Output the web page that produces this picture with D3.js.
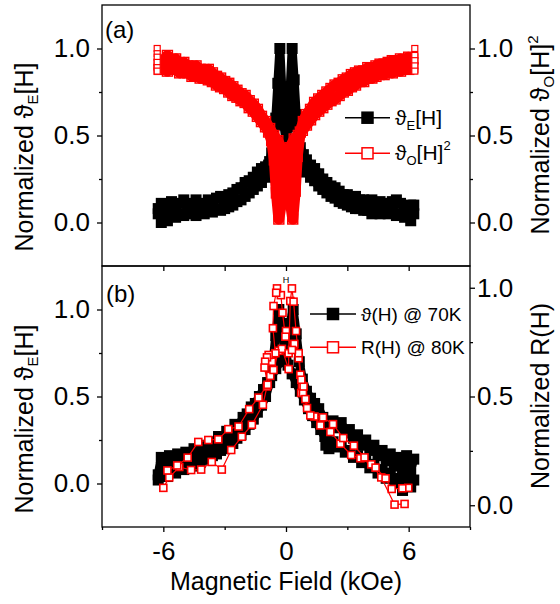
<!DOCTYPE html>
<html>
<head>
<meta charset="utf-8">
<script src="https://cdn.jsdelivr.net/npm/d3@7"></script>
<style>
  body { margin: 0; background: #fff; }
  svg { font-family: "Liberation Sans", Arial, sans-serif; }
</style>
</head>
<body>
<div id="chart"></div>
<script>
// ---- data: [field (kOe), normalized value] ----

// panel (a), black: theta_E[H], sweep up (peak at +0.3) and sweep down (peak at -0.3)
const thetaEUpA = [[-6.25,.05],[-6.1,.11],[-6.0,.03],[-5.8,.09],[-5.6,.12],[-5.4,.08],[-5.2,.11],[-5.0,.13],[-4.8,.09],[-4.6,.11],[-4.4,.13],[-4.2,.1],[-4.0,.11],[-3.8,.13],[-3.6,.12],[-3.4,.14],[-3.2,.15],[-3.0,.13],[-2.8,.16],[-2.6,.17],[-2.4,.19],[-2.2,.2],[-2.0,.23],[-1.8,.24],[-1.6,.26],[-1.4,.29],[-1.2,.31],[-1.0,.32],[-0.8,.35],[-0.6,.38],[-0.4,.41],[-0.2,.43],[0.0,.46],[0.1,.55],[0.2,.76],[0.3,1.0],[0.4,.82],[0.5,.62],[0.6,.5],[0.7,.43],[0.85,.39],[1.0,.36],[1.2,.33],[1.4,.31],[1.6,.28],[1.8,.25],[2.0,.23],[2.2,.21],[2.4,.2],[2.6,.18],[2.8,.16],[3.0,.16],[3.2,.14],[3.4,.15],[3.6,.13],[3.8,.13],[4.0,.12],[4.2,.13],[4.4,.11],[4.6,.12],[4.8,.11],[5.0,.1],[5.2,.12],[5.4,.13],[5.6,.11],[5.8,.09],[6.0,.05],[6.1,.1],[6.25,.05]];
const thetaEDownA = [[6.25,.1],[6.1,.01],[6.0,.06],[5.8,.03],[5.6,.05],[5.4,.04],[5.2,.06],[5.0,.05],[4.8,.06],[4.6,.05],[4.4,.06],[4.2,.05],[4.0,.07],[3.8,.07],[3.6,.08],[3.4,.08],[3.2,.09],[3.0,.1],[2.8,.11],[2.6,.12],[2.4,.14],[2.2,.15],[2.0,.17],[1.8,.19],[1.6,.21],[1.4,.24],[1.2,.26],[1.0,.29],[0.8,.33],[0.6,.37],[0.4,.4],[0.2,.43],[0.0,.47],[-0.1,.56],[-0.2,.76],[-0.3,1.0],[-0.4,.8],[-0.5,.6],[-0.6,.48],[-0.7,.4],[-0.85,.33],[-1.0,.26],[-1.2,.23],[-1.4,.21],[-1.6,.19],[-1.8,.17],[-2.0,.15],[-2.2,.13],[-2.4,.12],[-2.6,.1],[-2.8,.09],[-3.0,.08],[-3.2,.07],[-3.4,.08],[-3.6,.06],[-3.8,.07],[-4.0,.05],[-4.2,.06],[-4.4,.04],[-4.6,.06],[-4.8,.05],[-5.0,.04],[-5.2,.05],[-5.4,.03],[-5.6,.04],[-5.8,.01],[-6.0,.05],[-6.1,.0],[-6.25,.08]];

// panel (a), red: theta_O[H]^2
const thetaOUpA = [[-6.2,.91],[-6.0,.93],[-5.8,.96],[-5.6,.93],[-5.4,.94],[-5.2,.91],[-5.0,.92],[-4.8,.9],[-4.6,.89],[-4.4,.9],[-4.2,.88],[-4.0,.87],[-3.8,.88],[-3.6,.86],[-3.4,.84],[-3.2,.83],[-3.0,.81],[-2.8,.8],[-2.6,.78],[-2.4,.76],[-2.2,.74],[-2.0,.73],[-1.8,.7],[-1.6,.68],[-1.4,.65],[-1.2,.61],[-1.0,.58],[-0.8,.54],[-0.6,.5],[-0.4,.47],[-0.2,.42],[0.0,.33],[0.1,.24],[0.2,.13],[0.33,.02],[0.45,.18],[0.55,.38],[0.7,.52],[0.85,.58],[1.0,.62],[1.2,.65],[1.4,.69],[1.6,.71],[1.8,.73],[2.0,.75],[2.2,.77],[2.4,.79],[2.6,.8],[2.8,.82],[3.0,.83],[3.2,.85],[3.4,.86],[3.6,.87],[3.8,.87],[4.0,.89],[4.2,.88],[4.4,.9],[4.6,.91],[4.8,.91],[5.0,.92],[5.2,.93],[5.4,.92],[5.6,.94],[5.8,.93],[6.0,.95],[6.2,.94]];
const thetaODownA = [[6.2,.89],[6.0,.88],[5.8,.9],[5.6,.87],[5.4,.88],[5.2,.86],[5.0,.87],[4.8,.85],[4.6,.86],[4.4,.84],[4.2,.83],[4.0,.83],[3.8,.81],[3.6,.81],[3.4,.79],[3.2,.78],[3.0,.76],[2.8,.75],[2.6,.73],[2.4,.71],[2.2,.7],[2.0,.68],[1.8,.66],[1.6,.64],[1.4,.62],[1.2,.59],[1.0,.56],[0.8,.53],[0.6,.5],[0.4,.48],[0.2,.43],[0.0,.34],[-0.1,.24],[-0.2,.13],[-0.35,.02],[-0.47,.17],[-0.57,.36],[-0.7,.47],[-0.85,.52],[-1.0,.55],[-1.2,.58],[-1.4,.61],[-1.6,.64],[-1.8,.66],[-2.0,.69],[-2.2,.7],[-2.4,.72],[-2.6,.73],[-2.8,.75],[-3.0,.77],[-3.2,.78],[-3.4,.79],[-3.6,.81],[-3.8,.82],[-4.0,.83],[-4.2,.83],[-4.4,.85],[-4.6,.84],[-4.8,.86],[-5.0,.87],[-5.2,.86],[-5.4,.88],[-5.6,.89],[-5.8,.87],[-6.0,.89],[-6.2,.88]];
const thetaOEndsA = [[-6.3,1.0],[-6.3,.97],[-6.3,.95],[-6.3,.92],[-6.3,.89],[-6.3,.87],[6.3,1.0],[6.3,.96],[6.3,.93],[6.3,.9],[6.3,.87]];

// panel (b), black: theta(H) @ 70K
const thetaUpB = [[-6.25,.05],[-6.1,.15],[-5.9,.06],[-5.7,.16],[-5.5,.1],[-5.3,.17],[-5.1,.12],[-4.9,.18],[-4.7,.14],[-4.5,.2],[-4.3,.16],[-4.1,.22],[-3.9,.19],[-3.7,.24],[-3.5,.21],[-3.3,.27],[-3.1,.24],[-2.9,.3],[-2.7,.28],[-2.5,.34],[-2.3,.33],[-2.1,.38],[-1.9,.4],[-1.7,.44],[-1.5,.46],[-1.3,.5],[-1.1,.54],[-0.9,.58],[-0.7,.62],[-0.5,.66],[-0.3,.7],[-0.1,.73],[0.05,.8],[0.2,.92],[0.35,1.0],[0.5,.86],[0.65,.7],[0.8,.6],[1.0,.53],[1.2,.49],[1.4,.46],[1.6,.43],[1.8,.38],[1.95,.22],[2.1,.33],[2.3,.36],[2.5,.32],[2.7,.35],[2.9,.29],[3.1,.31],[3.3,.26],[3.5,.28],[3.7,.22],[3.9,.25],[4.1,.19],[4.3,.22],[4.5,.16],[4.7,.19],[4.9,.13],[5.1,.17],[5.3,.1],[5.5,.15],[5.7,.07],[5.9,.16],[6.1,.08],[6.25,.14]];
const thetaDownB = [[6.25,.02],[6.1,-.02],[5.9,.05],[5.7,-.04],[5.5,.03],[5.3,.0],[5.1,.06],[4.9,.03],[4.7,.08],[4.5,.06],[4.3,.11],[4.1,.09],[3.9,.13],[3.7,.12],[3.5,.16],[3.3,.15],[3.1,.19],[2.9,.18],[2.7,.22],[2.5,.21],[2.3,.24],[2.1,.2],[1.9,.27],[1.7,.31],[1.5,.35],[1.3,.39],[1.1,.43],[0.9,.48],[0.7,.53],[0.5,.58],[0.3,.63],[0.1,.68],[-0.05,.78],[-0.2,.9],[-0.35,1.0],[-0.5,.85],[-0.65,.68],[-0.8,.58],[-1.0,.5],[-1.2,.45],[-1.4,.41],[-1.6,.37],[-1.8,.34],[-2.0,.31],[-2.2,.28],[-2.4,.26],[-2.6,.23],[-2.8,.22],[-3.0,.2],[-3.2,.19],[-3.4,.17],[-3.6,.16],[-3.8,.14],[-4.0,.14],[-4.2,.12],[-4.4,.12],[-4.6,.1],[-4.8,.1],[-5.0,.08],[-5.2,.09],[-5.4,.06],[-5.6,.07],[-5.8,.04],[-6.0,.06],[-6.25,.02]];

// panel (b), red: R(H) @ 80K (right axis)
const resUpB = [[-6.0,.08],[-5.71,.128],[-5.22,.176],[-4.64,.162],[-4.15,.164],[-3.63,.199],[-3.14,.164],[-2.68,.254],[-2.16,.315],[-1.67,.37],[-1.13,.462],[-0.93,.546],[-0.77,.595],[-0.61,.622],[-0.36,.71],[-0.2,.719],[0.13,.626],[0.13,.699],[0.21,.939],[0.29,.997],[0.37,.936],[0.49,.801],[0.62,.676],[0.7,.6],[0.74,.516],[0.83,.518],[1.03,.447],[1.39,.408],[1.68,.367],[2.17,.337],[2.66,.283],[3.19,.231],[3.64,.216],[4.17,.188],[4.66,.128],[5.31,.003],[5.8,.006]];
const resDownB = [[5.98,.08],[5.69,.078],[5.17,.075],[4.87,.124],[4.38,.173],[3.84,.22],[3.32,.274],[2.8,.309],[2.3,.373],[1.81,.404],[1.19,.413],[0.95,.488],[0.78,.549],[0.86,.546],[0.75,.577],[0.62,.699],[0.41,.742],[0.29,.714],[0.0,.801],[-0.03,.775],[-0.17,.885],[-0.25,.966],[-0.44,.997],[-0.48,.977],[-0.61,.916],[-0.64,.814],[-0.52,.699],[-0.69,.66],[-0.85,.691],[-0.93,.68],[-1.02,.66],[-1.05,.633],[-0.9,.554],[-1.34,.495],[-1.8,.442],[-2.32,.362],[-2.82,.35],[-3.31,.303],[-3.8,.30],[-4.29,.291],[-4.81,.219],[-5.32,.183],[-5.8,.16]];

// ticks
const xMajor = [-6, 0, 6];
const xMinor = [-9, -3, 3, 9];
const xMid = [-6, -3, 0, 3, 6];
const yMajor = [0, 0.5, 1.0];
const yMinor = [0.25, 0.75];

const RED = "#ff0000";
const FONT = "26px";

const svg = d3.select("#chart").append("svg")
    .attr("width", 560)
    .attr("height", 604);

// scales
const x = d3.scaleLinear().domain([-9, 9]).range([102, 470]);
const yA = d3.scaleLinear().domain([-0.25, 1.25]).range([266, 5]);
const yB = d3.scaleLinear().domain([-0.25, 1.25]).range([527, 266]);
const yBR = d3.scaleLinear().domain([-0.1, 1.1]).range([527, 266]);

function styleAxis(g) {
  g.select(".domain").remove();
  g.attr("font-family", null).attr("font-size", null);
  g.selectAll("line").attr("stroke", "#000").attr("stroke-width", 1.3);
  g.selectAll("text").style("font-size", FONT).attr("fill", "#000");
}

function yAxes(scale, xpos, side) {
  const make = side === "left" ? d3.axisLeft : d3.axisRight;
  svg.append("g").attr("transform", `translate(${xpos},0)`)
      .call(make(scale).tickValues(yMinor).tickSize(3).tickFormat(""))
      .call(styleAxis);
  svg.append("g").attr("transform", `translate(${xpos},0)`)
      .call(make(scale).tickValues(yMajor).tickSize(5)
          .tickPadding(side === "left" ? 7 : 2).tickFormat(d3.format(".1f")))
      .call(styleAxis);
}

// line + marker helpers
function band(data, yScale, color, width) {
  return svg.append("path")
      .datum(data)
      .attr("fill", "none")
      .attr("stroke", color)
      .attr("stroke-width", width)
      .attr("stroke-linejoin", "round")
      .attr("d", d3.line().x(d => x(d[0])).y(d => yScale(d[1])));
}

function squares(data, yScale, size, fill, stroke, sw) {
  svg.append("g").selectAll("rect")
      .data(data)
      .enter()
      .append("rect")
      .attr("x", d => x(d[0]) - size / 2)
      .attr("y", d => yScale(d[1]) - size / 2)
      .attr("width", size)
      .attr("height", size)
      .attr("fill", fill)
      .attr("stroke", stroke)
      .attr("stroke-width", sw);
}

// ---- panel (a) ----
band(thetaEUpA, yA, "#000", 9);
band(thetaEDownA, yA, "#000", 9);
squares(thetaEUpA, yA, 11, "#000", "none", 0);
squares(thetaEDownA, yA, 11, "#000", "none", 0);

band(thetaOUpA, yA, RED, 11);
band(thetaODownA, yA, RED, 11);
squares(thetaOUpA, yA, 10, "none", RED, 1.4);
squares(thetaODownA, yA, 10, "none", RED, 1.4);
squares(thetaOEndsA, yA, 6, "#fff", RED, 1.2);

// ---- panel (b) ----
band(thetaUpB, yB, "#000", 9);
band(thetaDownB, yB, "#000", 9);
squares(thetaUpB, yB, 11, "#000", "none", 0);
squares(thetaDownB, yB, 11, "#000", "none", 0);

band(resUpB, yBR, RED, 1.2);
band(resDownB, yBR, RED, 1.2);
squares(resUpB, yBR, 7, "#fff", RED, 1.6);
squares(resDownB, yBR, 7, "#fff", RED, 1.6);

svg.append("text")
    .attr("x", x(0))
    .attr("y", yBR(1.02))
    .attr("text-anchor", "middle")
    .attr("fill", "#000")
    .style("font-size", "9px")
    .text("H");

// frames
[[5, 266], [266, 527]].forEach(([top, bottom]) => {
  svg.append("rect")
      .attr("x", x(-9)).attr("y", top)
      .attr("width", x(9) - x(-9)).attr("height", bottom - top)
      .attr("fill", "none").attr("stroke", "#000").attr("stroke-width", 1.3);
});

// axes
yAxes(yA, x(-9), "left");
yAxes(yA, x(9), "right");
yAxes(yB, x(-9), "left");
yAxes(yBR, x(9), "right");

svg.append("g").attr("transform", "translate(0,266)")
    .call(d3.axisBottom(x).tickValues(xMid).tickSize(5).tickFormat(""))
    .call(styleAxis);
svg.append("g").attr("transform", "translate(0,527)")
    .call(d3.axisBottom(x).tickValues(xMinor).tickSize(3).tickFormat(""))
    .call(styleAxis);
svg.append("g").attr("transform", "translate(0,527)")
    .call(d3.axisBottom(x).tickValues(xMajor).tickSize(5).tickPadding(10).tickFormat(d => String(d)))
    .call(styleAxis);

// axis titles
function title(xp, yp, parts) {
  const t = svg.append("text")
      .attr("transform", `translate(${xp},${yp}) rotate(-90)`)
      .attr("text-anchor", "middle")
      .style("font-size", "25px");
  parts.forEach(p => {
    const s = t.append("tspan").text(p.t);
    if (p.sub) s.style("font-size", "15px").attr("dy", 5);
    if (p.sup) s.style("font-size", "15px").attr("dy", -11);
    if (p.back) s.attr("dy", p.back);
  });
}

title(33, 157, [{t: "Normalized ϑ"}, {t: "E", sub: true}, {t: "[H]", back: -5}]);
title(549, 135, [{t: "Normalized ϑ"}, {t: "O", sub: true}, {t: "[H]", back: -5}, {t: "2", sup: true}]);
title(33, 419, [{t: "Normalized ϑ"}, {t: "E", sub: true}, {t: "[H]", back: -5}]);
title(549, 396, [{t: "Normalized R(H)"}]);

svg.append("text")
    .attr("x", x(0))
    .attr("y", 590)
    .attr("text-anchor", "middle")
    .style("font-size", "25px")
    .text("Magnetic Field (kOe)");

// panel labels
svg.append("text").attr("x", 105).attr("y", 38).style("font-size", "24px").text("(a)");
svg.append("text").attr("x", 106).attr("y", 302).style("font-size", "24px").text("(b)");

// legends
function legendRow(x0, x1, yc, color, filled, tx, fs, parts) {
  svg.append("line")
      .attr("x1", x0).attr("x2", x1).attr("y1", yc).attr("y2", yc)
      .attr("stroke", color).attr("stroke-width", 1.5);
  const xm = (x0 + x1) / 2;
  svg.append("rect")
      .attr("x", xm - 5.5).attr("y", yc - 5.5)
      .attr("width", 11).attr("height", 11)
      .attr("fill", filled ? color : "#fff")
      .attr("stroke", color).attr("stroke-width", 1.5);
  const t = svg.append("text").attr("x", tx).attr("y", yc + 7).style("font-size", fs);
  parts.forEach(p => {
    const s = t.append("tspan").text(p.t);
    if (p.sub) s.style("font-size", "13px").attr("dy", 5);
    if (p.sup) s.style("font-size", "13px").attr("dy", -10);
    if (p.back) s.attr("dy", p.back);
  });
}

legendRow(345, 390, 117.7, "#000", true, 395, "21px", [{t: "ϑ"}, {t: "E", sub: true}, {t: "[H]", back: -5}]);
legendRow(345, 390, 153.3, RED, false, 395, "21px", [{t: "ϑ"}, {t: "O", sub: true}, {t: "[H]", back: -5}, {t: "2", sup: true}]);
legendRow(310, 356, 314, "#000", true, 361, "19px", [{t: "ϑ(H) @ 70K"}]);
legendRow(310, 356, 347.3, RED, false, 361, "19px", [{t: "R(H) @ 80K"}]);
</script>
</body>
</html>
